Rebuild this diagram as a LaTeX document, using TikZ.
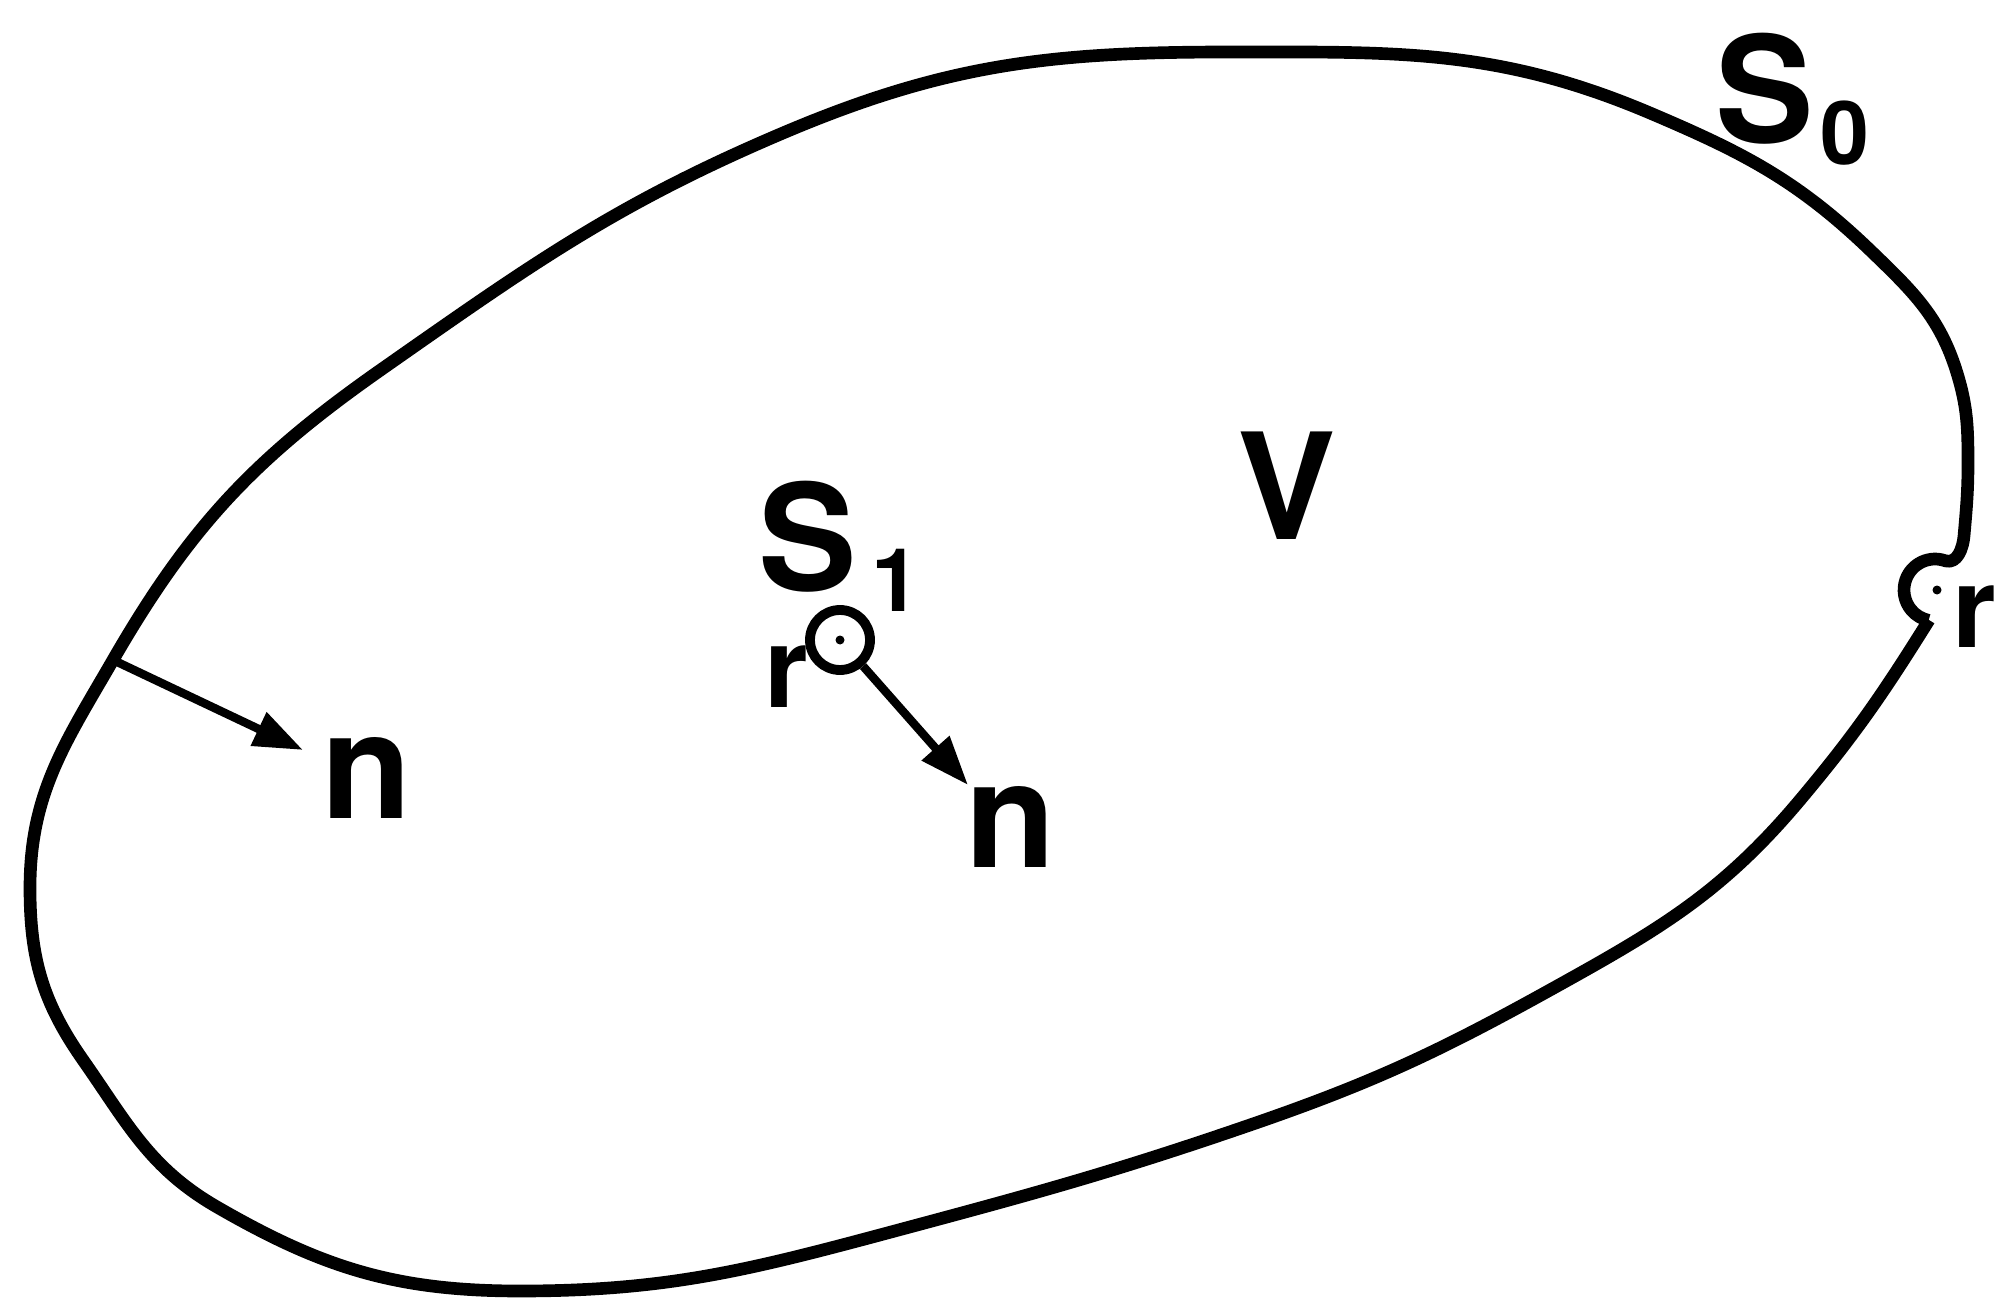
\documentclass[tikz,border=0pt]{standalone}
\usepackage{fontspec}
\setmainfont{TeX Gyre Heros}
\usetikzlibrary{arrows.meta}

\tikzset{
  rim/.style={line width=3.6pt, line join=round},
  normal/.style={line width=2.4pt, -{Triangle[length=14pt,width=10pt]}},
  lab/.style={inner sep=0pt, font=\fontsize{42}{50}\selectfont\bfseries},
  smalllab/.style={inner sep=0pt, font=\fontsize{32}{38}\selectfont\bfseries},
}
\newcommand{\subidx}[1]{\raisebox{-6pt}{\fontsize{25}{30}\selectfont\bfseries #1}}

\begin{document}
\begin{tikzpicture}
\useasboundingbox (0,0) rectangle (19.97,12.98);

\coordinate (foot) at (1.13,6.38);

\draw[rim] (19.29,6.78)
  to[out=238,in=50] (18.00,4.98)
  to[out=230,in=29] (15.50,3.08)
  to[out=209,in=19] (12.50,1.73)
  to[out=199,in=15] (8.91,0.66)
  to[out=195,in=0] (5.20,0.07)
  to[out=180,in=-30] (2.17,0.91)
  to[out=150,in=-55] (0.83,2.38)
  to[out=125,in=-90] (0.30,4.10)
  to[out=90,in=240] (foot)
  to[out=60,in=215] (3.82,9.29)
  to[out=35,in=203] (7.83,11.65)
  to[out=23,in=180] (12.30,12.46)
  to[out=0,in=157] (16.50,11.85)
  to[out=-23,in=136] (18.72,10.46)
  to[out=-44,in=107] (19.57,9.25)
  to[out=-73,in=90] (19.68,8.35)
  to[out=-90,in=85] (19.64,7.62)
  to[out=-95,in=-15] (19.456,7.371)
  arc[start angle=70, end angle=258, radius=0.31];

\fill (19.37,7.08) circle (0.045);
\node[smalllab, anchor=base west] (rR) at (19.52,6.51) {r};

\coordinate (tipL) at (3.03,5.48);
\draw[normal] (foot) -- (tipL);
\node[lab, anchor=base] (nL) at (3.665,4.80) {n};

\node[draw, circle, line width=2.8pt, minimum size=0.6cm, inner sep=0pt] (hole) at (8.40,6.58) {};
\fill (hole.center) circle (0.045);
\coordinate (tipS) at (9.68,5.13);
\draw[normal] (hole) -- (tipS);
\node[lab, anchor=base] (nS) at (10.11,4.31) {n};
\node[smalllab, anchor=base west] (rS) at (7.64,5.91) {r};
\node[lab, anchor=base west] (S1) at (7.58,7.08) {S\kern4pt\subidx{1}};

\node[lab, anchor=base] (V) at (12.87,7.58) {V};
\node[lab, anchor=base west] (S0) at (17.15,11.55) {S\kern1.7pt\subidx{0}};
\end{tikzpicture}
\end{document}
